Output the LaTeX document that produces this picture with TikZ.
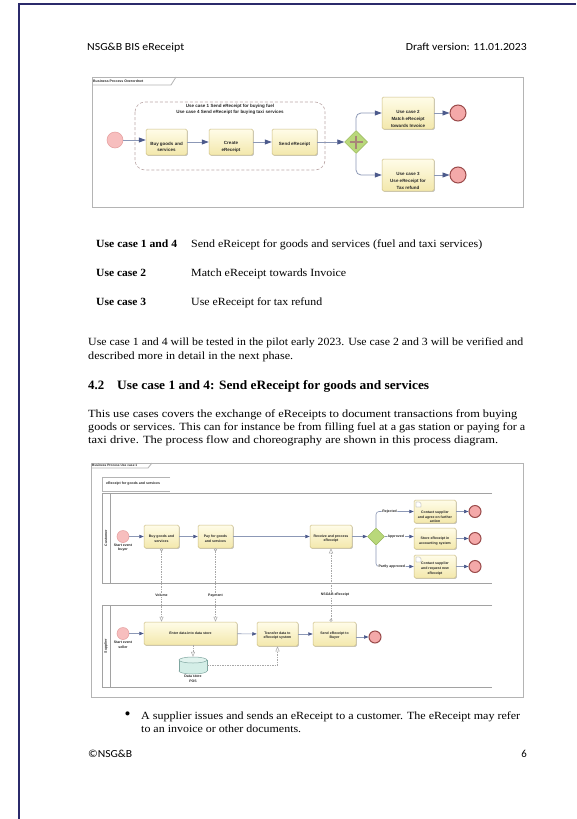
\documentclass[tikz,border=0pt]{standalone}
\usepackage{fontspec}
\usepackage{graphicx}
\setmainfont{Liberation Serif}
\newfontfamily\calib{Carlito}
\newfontfamily\dsans{Liberation Sans}
\usetikzlibrary{shapes.geometric,arrows.meta,shadows}
\newcommand\fitw[2]{\resizebox{#1}{\height}{#2}}
\definecolor{navy}{HTML}{2B2A6B}
\definecolor{framec}{HTML}{B4B4B4}
\definecolor{taskdraw}{HTML}{CDBF85}
\definecolor{tasktop}{HTML}{FFFCE8}
\definecolor{taskbot}{HTML}{F3E8AC}
\definecolor{startfill}{HTML}{F7BEBE}
\definecolor{startdraw}{HTML}{E49C9C}
\definecolor{endfill}{HTML}{F4A9A9}
\definecolor{enddraw}{HTML}{9A4A4A}
\definecolor{gwfill}{HTML}{B9D87A}
\definecolor{gwdraw}{HTML}{93B356}
\definecolor{plusc}{HTML}{A88578}
\definecolor{seqline}{HTML}{8C98B6}
\definecolor{arrowc}{HTML}{4C5A8C}
\definecolor{msgc}{HTML}{A8A8A8}
\definecolor{dsfill}{HTML}{D4EEE7}
\definecolor{dsdraw}{HTML}{7FA6A0}
\definecolor{dashc}{HTML}{BCA8A8}
\newcommand\tk[8]{%
  \node[task,minimum width=#4,minimum height=#5] (#1) at (#2,#3) {};
  \node[#8] (#1t) at (#2,#7) {#6};}
\begin{document}
\begin{tikzpicture}[x=1pt,y=-1pt,
  body/.style={font=\fontsize{11}{12.5}\selectfont, inner sep=0, anchor=base west},
  hdr/.style={font=\calib\fontsize{10.8}{12}\selectfont, inner sep=0},
  frame/.style={draw=framec, line width=0.8pt},
  pool/.style={draw=framec!90!black, line width=0.9pt},
  task/.style={rectangle, rounded corners=1.5pt, draw=taskdraw, line width=0.5pt,
     top color=tasktop, bottom color=taskbot, inner sep=0,
     drop shadow={shadow xshift=0.9pt, shadow yshift=-0.9pt, fill=black!22, opacity=1}},
  dtA/.style={font={\dsans\bfseries\fontsize{4.5}{6.6}\selectfont}, align=center, inner sep=0, text=black!85},
  dtB/.style={font={\dsans\bfseries\fontsize{3.5}{4.6}\selectfont}, align=center, inner sep=0, text=black!85},
  lblB/.style={dtB, fill=white, inner sep=0.6pt},
  startev/.style={circle, fill=startfill, draw=startdraw, line width=0.5pt, inner sep=0},
  endev/.style={circle, fill=endfill, draw=enddraw, line width=1pt, inner sep=0},
  gw/.style={diamond, aspect=1, fill=gwfill, draw=gwdraw, line width=0.5pt, inner sep=0},
  seqA/.style={draw=seqline, line width=0.8pt, -{Triangle[length=7pt,width=5pt,color=arrowc]}},
  seqB/.style={draw=seqline, line width=0.6pt, -{Triangle[length=4.5pt,width=3.4pt,color=arrowc]}},
  msg/.style={draw=msgc, line width=0.5pt, dash pattern=on 1.5pt off 1pt,
     {Circle[open,fill=white,length=3pt]}-{Triangle[open,fill=white,length=5pt,width=4pt]}},
  msgnc/.style={draw=msgc, line width=0.5pt, dash pattern=on 1.5pt off 1pt,
     -{Triangle[open,fill=white,length=5pt,width=4pt]}},
  dsline/.style={draw=dsdraw, line width=0.5pt}
]
\useasboundingbox[fill=white] (0,0) rectangle (576,819);
% page border
\draw[navy, line width=1.7pt] (576,4) -- (19,4) -- (19,819);

% header
\node[hdr, anchor=base west] (h1) at (87,50.5) {\fitw{97pt}{NSG\&B BIS eReceipt}};
\node[hdr, anchor=base east] (h2) at (527,50.5) {\fitw{121pt}{Draft version: 11.01.2023}};

% ===== top diagram =====
\draw[frame] (92,77) rectangle (523,207);
\draw[frame] (92,85) -- (171,85) -- (176,77);
\node[dtB, anchor=west] (tab1) at (93,81) {Business Process Overordnet};
\draw[draw=dashc, line width=0.6pt, dash pattern=on 3pt off 2pt, rounded corners=10pt] (135,102) rectangle (325,170);
\node[dtA] (ucl) at (230,109.5) {Use case 1 Send eReceipt for buying fuel\\Use case 4 Send eReceipt for buying taxi services};

\node[startev, minimum size=16] (s0) at (115,140) {};
\tk{b1}{166.5}{142}{41}{26}{Buy goods and\\services}{147}{dtA}
\tk{b2}{231}{142}{44}{26}{Create\\eReceipt}{147}{dtA}
\tk{b3}{294.5}{142}{45}{26}{Send eReceipt}{144}{dtA}
\node[gw, minimum size=23] (g) at (356,142) {};
\draw[plusc, line width=2.2pt] (349.5,142) -- (362.5,142) (356,135.5) -- (356,148.5);
\tk{u2}{408}{113}{52}{32}{Use case 2\\Match eReceipt\\towards Invoice}{119}{dtA}
\tk{u3}{408}{175}{52}{32}{Use case 3\\Use eReceipt for\\Tax refund}{181}{dtA}
\node[endev, minimum size=16] (e2) at (458,113) {};
\node[endev, minimum size=16] (e3) at (458,175) {};

\draw[seqA] (s0) -- (s0 -| b1.west);
\draw[seqA] (b1) -- (b2);
\draw[seqA] (b2) -- (b3);
\draw[seqA] (b3) -- (g);
\draw[seqA, rounded corners=5pt] (g.north) |- (u2.west);
\draw[seqA, rounded corners=5pt] (g.south) |- (u3.west);
\draw[seqA] (u2) -- (e2);
\draw[seqA] (u3) -- (e3);

% ===== table =====
\node[body] (r1a) at (96,247.5) {\fitw{81pt}{\textbf{Use case 1 and 4}}};
\node[body] (r1b) at (191,247.5) {\fitw{291pt}{Send eReicept for goods and services (fuel and taxi services)}};
\node[body] (r2a) at (96,276.5) {\fitw{50pt}{\textbf{Use case 2}}};
\node[body] (r2b) at (191,276.5) {\fitw{155pt}{Match eReceipt towards Invoice}};
\node[body] (r3a) at (96,305) {\fitw{50pt}{\textbf{Use case 3}}};
\node[body] (r3b) at (191,305) {\fitw{131pt}{Use eReceipt for tax refund}};

% paragraph 1
\node[body] (p1a) at (88,345.5) {\fitw{435pt}{Use case 1 and 4 will be tested in the pilot early 2023. Use case 2 and 3 will be verified and}};
\node[body] (p1b) at (88,359.5) {\fitw{205pt}{described more in detail in the next phase.}};

% heading
\node[body, font=\bfseries\fontsize{12.8}{14}\selectfont] (hd1) at (88,389.5) {4.2};
\node[body, font=\bfseries\fontsize{12.8}{14}\selectfont] (hd2) at (117,389.5) {\fitw{312pt}{Use case 1 and 4: Send eReceipt for goods and services}};

% paragraph 2
\node[body] (p2a) at (88,417.5) {\fitw{429pt}{This use cases covers the exchange of eReceipts to document transactions from buying}};
\node[body] (p2b) at (88,430.5) {\fitw{437pt}{goods or services. This can for instance be from filling fuel at a gas station or paying for a}};
\node[body] (p2c) at (88,443.5) {\fitw{410pt}{taxi drive. The process flow and choreography are shown in this process diagram.}};

% ===== bottom diagram =====
\draw[frame] (91,463) rectangle (523,697);
\draw[frame] (91,468) -- (148,468) -- (152,463);
\node[dtB, anchor=west, font={\dsans\bfseries\fontsize{3.2}{4}\selectfont}] (tab2) at (92,465.7) {Business Process Use case 1};
\draw[frame] (170,477) -- (102,477) -- (102,491) -- (170,491);
\node[dtB, anchor=west] (sub) at (106,484) {eReceipt for goods and services};

\draw[pool] (492,493) -- (102,493) -- (102,583) -- (492,583);
\draw[pool] (110,493) -- (110,583);
\node[dtB, rotate=90] (lc) at (106,538) {Customer};
\draw[pool] (492,605) -- (102,605) -- (102,687) -- (492,687);
\draw[pool] (110,605) -- (110,687);
\node[dtB, rotate=90] (ls) at (106,646) {Supplier};

% customer lane
\node[startev, minimum size=12] (cs) at (123,536.5) {};
\node[dtB] (cst) at (123,547.5) {Start event\\buyer};
\tk{cb1}{161.5}{536.5}{35}{23}{Buy goods and\\services}{538.5}{dtB}
\tk{cb2}{215.5}{536.5}{35}{23}{Pay for goods\\and services}{538.5}{dtB}
\tk{cr}{331}{536.5}{42}{23}{Receive and process\\eReceipt}{538.5}{dtB}
\node[gw, minimum size=17] (cg) at (376,536.5) {};
\tk{c1}{435}{511.5}{42}{23}{Contact supplier\\and agree on further\\action}{517}{dtB}
\tk{c2}{435}{538.5}{42}{21}{Store eReceipt in\\accounting system}{541}{dtB}
\tk{c3}{435}{566.5}{42}{23}{Contact supplier\\and request new\\eReceipt}{568.5}{dtB}
\draw[black!45, line width=0.3pt, fill=white] (416,507) -- (416,502) -- (419.5,502) -- (421,503.5) -- (421,507) -- cycle;
\draw[black!45, line width=0.3pt, fill=white] (416,562) -- (416,557) -- (419.5,557) -- (421,558.5) -- (421,562) -- cycle;
\node[endev, minimum size=12] (ce1) at (475,511.5) {};
\node[endev, minimum size=12] (ce2) at (475,538.5) {};
\node[endev, minimum size=12] (ce3) at (475,566.5) {};

\draw[seqB] (cs) -- (cb1);
\draw[seqB] (cb1) -- (cb2);
\draw[seqB] (cb2) -- (cr);
\draw[seqB] (cr) -- (cg);
\draw[seqB, rounded corners=3pt] (cg.north) |- node[lblB, pos=0.68] (lrej) {Rejected} (c1.west);
\draw[seqB] (cg.east) -- node[lblB, pos=0.38] (lapp) {Approved} (cg.east -| c2.west);
\draw[seqB, rounded corners=3pt] (cg.south) |- node[lblB, pos=0.71] (lpar) {Partly approved} (c3.west);
\draw[seqB] (c1) -- (ce1);
\draw[seqB] (c2) -- (ce2);
\draw[seqB] (c3) -- (ce3);

% supplier lane
\node[startev, minimum size=12] (ss) at (123,633.5) {};
\node[dtB] (sst) at (123,644.5) {Start event\\seller};
\tk{se}{190.5}{633.5}{93}{23}{Enter data into data store}{633.5}{dtB}
\tk{st}{277.5}{634}{41}{24}{Transfer data to\\eReceipt system}{635.5}{dtB}
\tk{sd}{334.5}{634}{43}{24}{Send eReceipt to\\Buyer}{635.5}{dtB}
\node[endev, minimum size=12] (sx) at (375,637) {};
\draw[seqB] (ss) -- (se);
\draw[seqB] (se) -- (st);
\draw[seqB] (st) -- (sd);
\draw[seqB] (sd.east |- sx) -- (sx);

% data store
\node[inner sep=0, minimum width=28, minimum height=17] (ds) at (193,665.5) {};
\filldraw[fill=dsfill, dsline] (193,671) ellipse [x radius=14, y radius=3];
\fill[dsfill] (179,660) rectangle (207,671);
\draw[dsline] (179,660) -- (179,671) (207,660) -- (207,671);
\filldraw[fill=dsfill!70!white, dsline] (193,660) ellipse [x radius=14, y radius=3];
\node[dtB] (dst) at (193,679) {Data store\\POS};

% message flows
\draw[msg] (cb1.south) -- (cb1.south |- se.north);
\draw[msg] (cb2.south) -- (cb2.south |- se.north);
\draw[msg] (cr.south |- sd.north) -- (cr.south);
\draw[msgnc] (ds.north |- se.south) -- (ds.north);
\draw[msgnc] (ds.east) -| (st.south);
\node[lblB] (mv) at (161.5,595) {Volume};
\node[lblB] (mp) at (215.5,595.5) {Payment};
\node[lblB] (mn) at (335,595) {NSG\&B eReceipt};

% bullet
\node[inner sep=0, font=\fontsize{17}{18}\selectfont] (bul) at (127.5,716) {\textbullet};
\node[body] (bl1) at (141,719.5) {\fitw{379pt}{A supplier issues and sends an eReceipt to a customer. The eReceipt may refer}};
\node[body] (bl2) at (141,732.5) {\fitw{160pt}{to an invoice or other documents.}};

% footer
\node[hdr, anchor=base west] (f1) at (88,757.5) {\fitw{44pt}{©NSG\&B}};
\node[hdr, anchor=base east] (f2) at (527,757.5) {6};
\end{tikzpicture}
\end{document}
